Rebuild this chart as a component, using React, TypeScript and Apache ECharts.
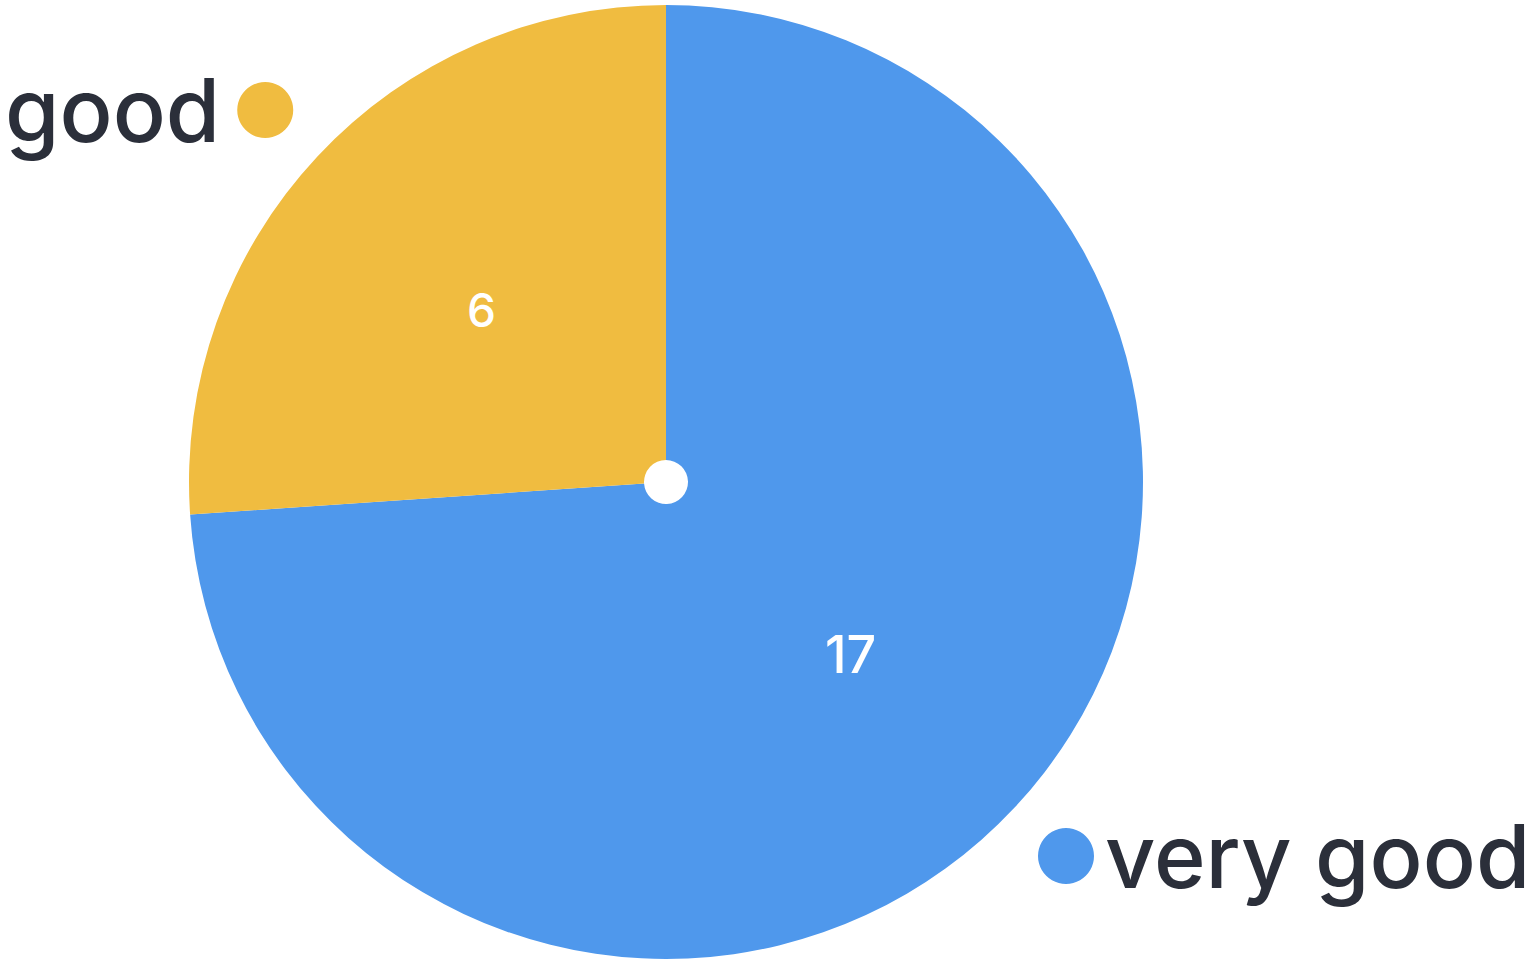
import React, { useEffect, useRef } from "react";
import * as echarts from "echarts";

const categories = ["very good", "good"];
const values = [17, 6];
const colors = ["#4F98EC", "#F0BC40"];
const labelSizes = [52, 46];

export default function App() {
  const ref = useRef<HTMLDivElement>(null);
  useEffect(() => {
    if (!ref.current) return;
    const chart = echarts.init(ref.current, null, { renderer: "svg" });
    const data = categories.map((name, i) => ({
      name,
      value: values[i],
      itemStyle: { color: colors[i] },
      label: { fontSize: labelSizes[i] },
    }));
    const legendText = {
      fontSize: 88,
      fontWeight: 500,
      fontFamily: "Inter",
      color: "#2B2F3A",
    };
    chart.setOption({
      animation: false,
      legend: [
        {
          data: ["good"],
          left: 0,
          top: 61,
          align: "right",
          icon: "circle",
          itemWidth: 56,
          itemHeight: 56,
          selectedMode: false,
          textStyle: { ...legendText, padding: [0, 12, 0, 0] },
        },
        {
          data: ["very good"],
          left: 1033,
          top: 807,
          align: "left",
          icon: "circle",
          itemWidth: 56,
          itemHeight: 56,
          selectedMode: false,
          textStyle: { ...legendText, padding: [0, 0, 0, 6] },
        },
      ],
      series: [
        {
          type: "pie",
          center: [666, 482],
          radius: [22, 477],
          startAngle: 90,
          clockwise: true,
          data,
          label: {
            show: true,
            position: "inner",
            formatter: "{c}",
            color: "#FFFFFF",
            fontFamily: "Inter",
            fontWeight: 500,
          },
          labelLine: { show: false },
          itemStyle: { borderWidth: 0 },
          emphasis: { disabled: true },
        },
      ],
    });
    return () => chart.dispose();
  }, []);
  return (
    <div
      ref={ref}
      style={{ position: "fixed", left: 0, top: 0, width: 1533, height: 961, background: "#FFFFFF" }}
    />
  );
}
